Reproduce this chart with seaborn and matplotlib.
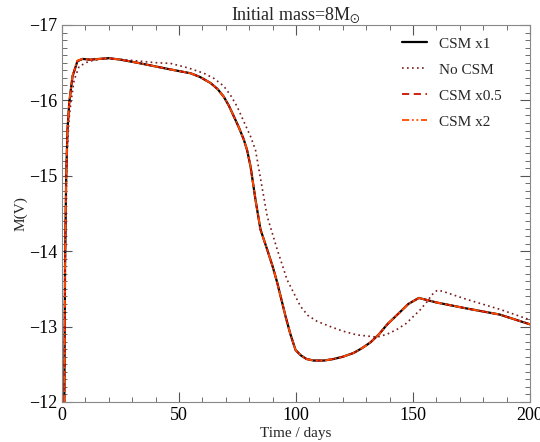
import numpy as np
import pandas as pd
import seaborn as sns
from matplotlib import pyplot as plt
from matplotlib.ticker import MultipleLocator

# light curve values (days, M(V))
days_csm = [1.0, 1.3, 1.8, 2.35, 3.1, 4.5, 6.6, 8.8, 12, 16, 20, 25, 32, 40, 46.4, 54.9,
            59, 63.5, 66.5, 69.1, 71.3, 73.4, 75.6, 77.7, 79.1, 80.6, 82.7, 84.8, 87.7,
            90, 92, 95.5, 97.6, 99.8, 102, 104.5, 107.5, 112, 116, 120, 124.6, 128, 131.8,
            135.5, 139, 144.7, 148, 152.5, 160, 173, 187, 200]
mag_csm = [-12.0, -13.8, -15.0, -15.61, -15.97, -16.32, -16.52, -16.55, -16.54, -16.55,
           -16.56, -16.54, -16.5, -16.45, -16.41, -16.36, -16.31, -16.23, -16.15, -16.05,
           -15.93, -15.79, -15.64, -15.48, -15.34, -15.12, -14.68, -14.29, -14.02, -13.8,
           -13.58, -13.14, -12.9, -12.69, -12.62, -12.57, -12.55, -12.55, -12.57, -12.6,
           -12.65, -12.71, -12.79, -12.9, -13.03, -13.2, -13.3, -13.38, -13.32, -13.24,
           -13.16, -13.03]

days_nocsm = [1.0, 1.5, 2.2, 3.0, 3.8, 5.2, 7.3, 11.6, 17.3, 22, 30, 40, 46.4, 54, 60.6,
              65, 69.1, 72, 74.8, 77.7, 80.6, 82.7, 84.8, 87.7, 92, 96.2, 101.9, 105, 109,
              114.7, 120, 126, 134.7, 139, 143, 147, 150, 153, 156, 158, 160.3, 162.5,
              173, 187, 200]
mag_nocsm = [-12.0, -14.3, -15.3, -15.75, -15.97, -16.27, -16.45, -16.52, -16.55, -16.55,
             -16.53, -16.5, -16.49, -16.43, -16.36, -16.29, -16.19, -16.07, -15.92, -15.72,
             -15.52, -15.34, -14.97, -14.46, -14.02, -13.62, -13.27, -13.15, -13.07, -13.0,
             -12.94, -12.89, -12.86, -12.9, -12.96, -13.04, -13.13, -13.22, -13.33, -13.42,
             -13.48, -13.47, -13.36, -13.23, -13.09]

days_csm05 = days_csm
mag_csm05 = [-12.0, -13.8, -15.0, -15.61, -15.97, -16.32, -16.52, -16.55, -16.54, -16.55,
             -16.56, -16.54, -16.5, -16.45, -16.41, -16.36, -16.31, -16.23, -16.15, -16.05,
             -15.93, -15.79, -15.64, -15.48, -15.34, -15.12, -14.68, -14.29, -14.02, -13.8,
             -13.58, -13.14, -12.9, -12.69, -12.62, -12.57, -12.55, -12.55, -12.57, -12.6,
             -12.65, -12.71, -12.79, -12.9, -13.03, -13.2, -13.3, -13.38, -13.32, -13.24,
             -13.16, -13.03]

days_csm2 = days_csm
mag_csm2 = [-12.0, -13.85, -15.03, -15.63, -15.98, -16.33, -16.53, -16.55, -16.54, -16.55,
            -16.56, -16.54, -16.5, -16.45, -16.41, -16.36, -16.31, -16.23, -16.15, -16.05,
            -15.93, -15.79, -15.64, -15.48, -15.34, -15.12, -14.68, -14.29, -14.02, -13.8,
            -13.58, -13.14, -12.9, -12.69, -12.62, -12.57, -12.55, -12.55, -12.57, -12.6,
            -12.65, -12.71, -12.79, -12.9, -13.03, -13.2, -13.3, -13.38, -13.32, -13.24,
            -13.16, -13.03]

labels = ["CSM x1", "No CSM", "CSM x0.5", "CSM x2"]
colors = ["black", "#7a1a1a", "#cc1100", "#ff4a00"]

sns.set_style("ticks")
plt.rcParams["font.family"] = ["Liberation Serif", "DejaVu Serif"]
plt.rcParams["mathtext.fontset"] = "stix"

fig = plt.figure(figsize=(5.4, 4.42), dpi=100)
ax = fig.add_axes([0.1148, 0.0905, 0.8667, 0.853])

sns.lineplot(x=days_csm, y=mag_csm, color=colors[0], lw=1.6, label=labels[0], ax=ax)
sns.lineplot(x=days_nocsm, y=mag_nocsm, color=colors[1], lw=1.2, ls=(0, (1, 2)),
             label=labels[1], ax=ax)
sns.lineplot(x=days_csm05, y=mag_csm05, color=colors[2], lw=1.3, ls=(0, (4, 2.5)),
             label=labels[2], ax=ax)
sns.lineplot(x=days_csm2, y=mag_csm2, color=colors[3], lw=1.3, ls=(0, (4, 1.5, 1, 1.5, 1, 1.5)),
             label=labels[3], ax=ax)

ax.set_xlim(0, 200)
ax.set_ylim(-12, -17)
ax.xaxis.set_major_locator(MultipleLocator(50))
ax.xaxis.set_minor_locator(MultipleLocator(10))
ax.yaxis.set_major_locator(MultipleLocator(1))
ax.yaxis.set_minor_locator(MultipleLocator(0.1))
ax.tick_params(which="both", direction="in", top=True, right=True, colors="#555555",
               labelcolor="black", labelsize=13)
ax.tick_params(which="major", length=7)
ax.tick_params(which="minor", length=3.5)
for s in ax.spines.values():
    s.set_color("#888888")

ax.set_xlabel("Time / days", fontsize=11, labelpad=2)
ax.set_ylabel("M(V)", fontsize=11, labelpad=1)
ax.set_title(r"Initial mass=8M$_{\odot}$", fontsize=13, pad=4)

ax.legend(frameon=False, loc="upper right", fontsize=11, handlelength=1.6,
          handletextpad=0.8, labelspacing=0.8, borderaxespad=0,
          bbox_to_anchor=(0.953, 0.984))

plt.savefig("out.png", dpi=100)
plt.close()
